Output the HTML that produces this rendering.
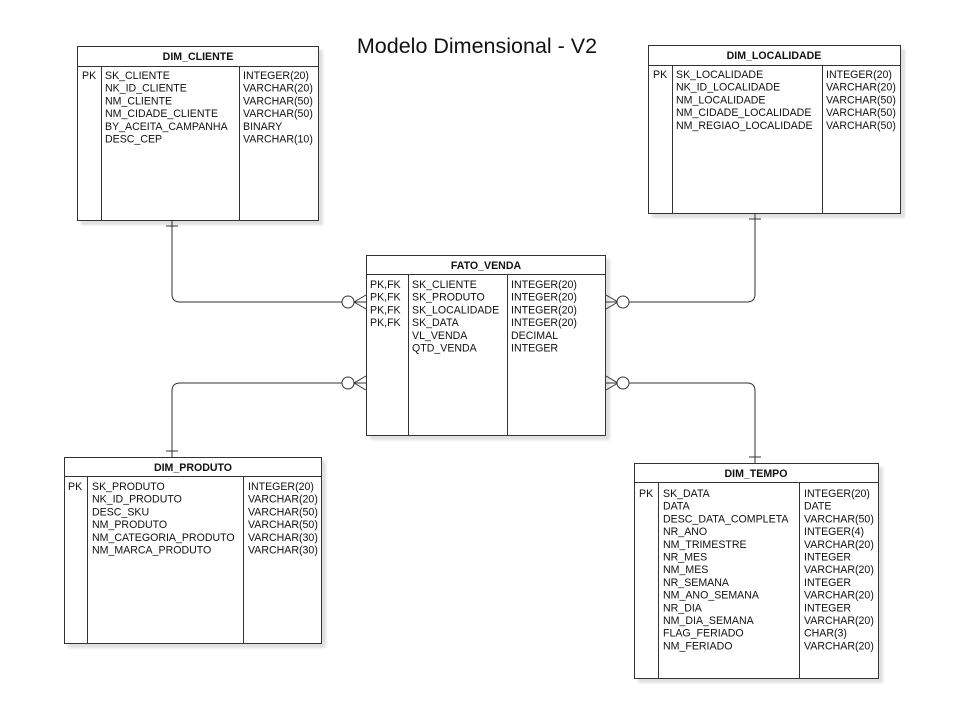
<!DOCTYPE html>
<html><head><meta charset="utf-8"><style>
html,body{margin:0;padding:0;background:#fff;}
svg text{font-family:"Liberation Sans",sans-serif;font-size:10.6px;fill:#111;}
</style></head><body>
<svg width="963" height="698" viewBox="0 0 963 698" xmlns="http://www.w3.org/2000/svg">
<defs><filter id="s" x="-5%" y="-5%" width="115%" height="115%"><feOffset dx="4" dy="4"/><feGaussianBlur stdDeviation="1"/><feColorMatrix values="0 0 0 0 0  0 0 0 0 0  0 0 0 0 0  0 0 0 0.12 0"/></filter></defs>
<text x="477" y="53" text-anchor="middle" style="font-size:21.5px">Modelo Dimensional - V2</text>

<g fill="none" stroke="#333" stroke-width="1">
<path d="M172 220 V294 Q172 302 180 302 H342"/>
<path d="M166 226 H178"/>
<path d="M354 302 L366 295 M354 302 L366 309 M354 302 H366"/>
<circle cx="348" cy="302" r="6" fill="#fff"/>
<path d="M755 213 V294 Q755 302 747 302 H629"/>
<path d="M749 219 H761"/>
<path d="M618 302 L606 295 M618 302 L606 309 M617 302 H606"/>
<circle cx="623" cy="302" r="6" fill="#fff"/>
<path d="M172 457 V391 Q172 383 180 383 H342"/>
<path d="M166 451 H178"/>
<path d="M354 383 L366 376 M354 383 L366 390 M354 383 H366"/>
<circle cx="348" cy="383" r="6" fill="#fff"/>
<path d="M755 463 V391 Q755 383 747 383 H629"/>
<path d="M749 457 H761"/>
<path d="M618 383 L606 376 M618 383 L606 390 M617 383 H606"/>
<circle cx="623" cy="383" r="6" fill="#fff"/>
</g>

<g stroke="#333" stroke-width="1" fill="#fff">
<rect x="77.5" y="46.5" width="241" height="174" filter="url(#s)"/>
<rect x="77.5" y="46.5" width="241" height="174"/>
<path d="M77.5 66.5 H318.5 M101.5 66.5 V220.5 M239.5 66.5 V220.5"/>
<rect x="648.5" y="45.5" width="252" height="168" filter="url(#s)"/>
<rect x="648.5" y="45.5" width="252" height="168"/>
<path d="M648.5 65.5 H900.5 M672.5 65.5 V213.5 M822.5 65.5 V213.5"/>
<rect x="366.5" y="255.5" width="239" height="180" filter="url(#s)"/>
<rect x="366.5" y="255.5" width="239" height="180"/>
<path d="M366.5 274.5 H605.5 M408.5 274.5 V435.5 M507.5 274.5 V435.5"/>
<rect x="64.5" y="457.5" width="257" height="186" filter="url(#s)"/>
<rect x="64.5" y="457.5" width="257" height="186"/>
<path d="M64.5 476.5 H321.5 M87.5 476.5 V643.5 M243.5 476.5 V643.5"/>
<rect x="634.5" y="463.5" width="244" height="215" filter="url(#s)"/>
<rect x="634.5" y="463.5" width="244" height="215"/>
<path d="M634.5 482.5 H878.5 M658.5 482.5 V678.5 M799.5 482.5 V678.5"/>
</g>

<g text-anchor="middle">
<text x="198" y="60" style="font-weight:bold">DIM_CLIENTE</text>
<text x="774" y="59" style="font-weight:bold">DIM_LOCALIDADE</text>
<text x="486" y="269" style="font-weight:bold">FATO_VENDA</text>
<text x="193" y="471" style="font-weight:bold">DIM_PRODUTO</text>
<text x="756" y="477" style="font-weight:bold">DIM_TEMPO</text>
</g>

<text x="82" y="79">PK</text>
<text x="105" y="79"><tspan x="105">SK_CLIENTE</tspan><tspan x="105" dy="12.7">NK_ID_CLIENTE</tspan><tspan x="105" dy="12.7">NM_CLIENTE</tspan><tspan x="105" dy="12.7">NM_CIDADE_CLIENTE</tspan><tspan x="105" dy="12.7">BY_ACEITA_CAMPANHA</tspan><tspan x="105" dy="12.7">DESC_CEP</tspan></text>
<text x="243" y="79"><tspan x="243">INTEGER(20)</tspan><tspan x="243" dy="12.7">VARCHAR(20)</tspan><tspan x="243" dy="12.7">VARCHAR(50)</tspan><tspan x="243" dy="12.7">VARCHAR(50)</tspan><tspan x="243" dy="12.7">BINARY</tspan><tspan x="243" dy="12.7">VARCHAR(10)</tspan></text>

<text x="653" y="78">PK</text>
<text x="676" y="78"><tspan x="676">SK_LOCALIDADE</tspan><tspan x="676" dy="12.7">NK_ID_LOCALIDADE</tspan><tspan x="676" dy="12.7">NM_LOCALIDADE</tspan><tspan x="676" dy="12.7">NM_CIDADE_LOCALIDADE</tspan><tspan x="676" dy="12.7">NM_REGIAO_LOCALIDADE</tspan></text>
<text x="826" y="78"><tspan x="826">INTEGER(20)</tspan><tspan x="826" dy="12.7">VARCHAR(20)</tspan><tspan x="826" dy="12.7">VARCHAR(50)</tspan><tspan x="826" dy="12.7">VARCHAR(50)</tspan><tspan x="826" dy="12.7">VARCHAR(50)</tspan></text>

<text x="370" y="288"><tspan x="370">PK,FK</tspan><tspan x="370" dy="12.7">PK,FK</tspan><tspan x="370" dy="12.7">PK,FK</tspan><tspan x="370" dy="12.7">PK,FK</tspan></text>
<text x="412" y="288"><tspan x="412">SK_CLIENTE</tspan><tspan x="412" dy="12.7">SK_PRODUTO</tspan><tspan x="412" dy="12.7">SK_LOCALIDADE</tspan><tspan x="412" dy="12.7">SK_DATA</tspan><tspan x="412" dy="12.7">VL_VENDA</tspan><tspan x="412" dy="12.7">QTD_VENDA</tspan></text>
<text x="511" y="288"><tspan x="511">INTEGER(20)</tspan><tspan x="511" dy="12.7">INTEGER(20)</tspan><tspan x="511" dy="12.7">INTEGER(20)</tspan><tspan x="511" dy="12.7">INTEGER(20)</tspan><tspan x="511" dy="12.7">DECIMAL</tspan><tspan x="511" dy="12.7">INTEGER</tspan></text>

<text x="68" y="490">PK</text>
<text x="92" y="490"><tspan x="92">SK_PRODUTO</tspan><tspan x="92" dy="12.7">NK_ID_PRODUTO</tspan><tspan x="92" dy="12.7">DESC_SKU</tspan><tspan x="92" dy="12.7">NM_PRODUTO</tspan><tspan x="92" dy="12.7">NM_CATEGORIA_PRODUTO</tspan><tspan x="92" dy="12.7">NM_MARCA_PRODUTO</tspan></text>
<text x="248" y="490"><tspan x="248">INTEGER(20)</tspan><tspan x="248" dy="12.7">VARCHAR(20)</tspan><tspan x="248" dy="12.7">VARCHAR(50)</tspan><tspan x="248" dy="12.7">VARCHAR(50)</tspan><tspan x="248" dy="12.7">VARCHAR(30)</tspan><tspan x="248" dy="12.7">VARCHAR(30)</tspan></text>

<text x="639" y="497">PK</text>
<text x="663" y="497"><tspan x="663">SK_DATA</tspan><tspan x="663" dy="12.7">DATA</tspan><tspan x="663" dy="12.7">DESC_DATA_COMPLETA</tspan><tspan x="663" dy="12.7">NR_ANO</tspan><tspan x="663" dy="12.7">NM_TRIMESTRE</tspan><tspan x="663" dy="12.7">NR_MES</tspan><tspan x="663" dy="12.7">NM_MES</tspan><tspan x="663" dy="12.7">NR_SEMANA</tspan><tspan x="663" dy="12.7">NM_ANO_SEMANA</tspan><tspan x="663" dy="12.7">NR_DIA</tspan><tspan x="663" dy="12.7">NM_DIA_SEMANA</tspan><tspan x="663" dy="12.7">FLAG_FERIADO</tspan><tspan x="663" dy="12.7">NM_FERIADO</tspan></text>
<text x="804" y="497"><tspan x="804">INTEGER(20)</tspan><tspan x="804" dy="12.7">DATE</tspan><tspan x="804" dy="12.7">VARCHAR(50)</tspan><tspan x="804" dy="12.7">INTEGER(4)</tspan><tspan x="804" dy="12.7">VARCHAR(20)</tspan><tspan x="804" dy="12.7">INTEGER</tspan><tspan x="804" dy="12.7">VARCHAR(20)</tspan><tspan x="804" dy="12.7">INTEGER</tspan><tspan x="804" dy="12.7">VARCHAR(20)</tspan><tspan x="804" dy="12.7">INTEGER</tspan><tspan x="804" dy="12.7">VARCHAR(20)</tspan><tspan x="804" dy="12.7">CHAR(3)</tspan><tspan x="804" dy="12.7">VARCHAR(20)</tspan></text>
</svg>
</body></html>
